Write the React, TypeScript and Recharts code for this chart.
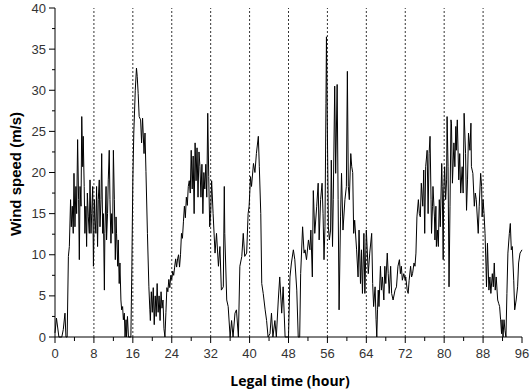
import React from 'react';
import { LineChart, Line, XAxis, YAxis, ReferenceLine } from 'recharts';

// [hour, wind speed m/s], one list per day
const day1: [number, number][] = [
	[0, 0.5], [0.3, 2.3], [0.8, 0], [1.4, 0], [1.7, 0.9], [2.05, 2.9], [2.25, 0], [2.5, 0], [2.75, 9.8], [2.95, 11],
	[3.2, 16.7], [3.35, 13.4], [3.55, 15.9], [3.75, 12.6], [3.9, 19.9], [4.1, 13.4], [4.3, 18.3], [4.45, 15], [4.65, 24], [4.85, 16.7],
	[5.0, 9.4], [5.15, 18.3], [5.35, 15.9], [5.5, 26.8], [5.7, 20.7], [5.8, 24.4], [6.0, 18.3], [6.15, 12.6], [6.35, 15.9], [6.5, 11],
	[6.65, 17.5], [6.85, 14.6], [7.05, 12.6], [7.2, 19.1], [7.4, 12.6], [7.55, 15], [7.75, 18.3], [7.9, 8.6], [8.1, 16.7], [8.2, 14.6],
	[8.4, 12.6], [8.55, 18.3], [8.75, 11], [8.9, 16.7], [9.1, 19.1], [9.25, 13.4], [9.45, 16.7], [9.6, 22.3], [9.8, 12.6], [9.95, 15],
	[10.15, 5.7], [10.25, 12.6], [10.5, 18.3], [10.6, 11.8], [10.8, 15], [10.95, 19.1], [11.15, 22.7], [11.3, 16.7], [11.5, 11.4], [11.65, 15],
	[11.85, 12.6], [12.0, 22.7], [12.2, 16.7], [12.4, 9.4], [12.55, 14.6], [12.65, 12.6], [12.9, 8.6], [13.0, 11.8], [13.2, 6.5], [13.35, 9],
	[13.55, 4.5], [13.7, 3.3], [13.9, 3.7], [14.05, 2.1], [14.25, 2.9], [14.4, 0], [14.6, 2.1], [14.7, 0], [14.9, 2.5], [15.1, 0],
	[15.6, 0], [15.8, 8.6], [16.0, 19.1], [16.2, 24.8], [16.5, 30], [16.75, 32.7], [16.9, 31.7], [17.1, 29.6], [17.3, 26.8], [17.6, 26.4],
	[17.8, 23.6], [18.0, 26.6], [18.3, 22.3], [18.5, 24.8], [18.7, 20.1], [19.0, 12.6], [19.3, 6.1], [19.5, 3.3], [19.6, 2], [19.8, 5.5],
	[20.0, 3], [20.2, 6], [20.4, 1.5], [20.6, 5], [20.8, 2.5], [21.0, 6.5], [21.2, 3], [21.4, 5], [21.6, 2], [21.8, 5.5],
	[22.0, 3.5], [22.2, 4.5], [22.4, 1], [22.6, 0], [22.8, 3], [23.0, 6], [23.2, 5.5], [23.4, 7], [23.6, 6], [23.8, 7.5],
];

const day2: [number, number][] = [
	[24.0, 7], [24.2, 8], [24.4, 7.5], [24.6, 8.5], [24.8, 9.5], [25.0, 8.5], [25.2, 9.5], [25.4, 10], [25.6, 8.5], [25.8, 10],
	[26.0, 12.6], [26.2, 12], [26.4, 14], [26.6, 15.9], [26.8, 14.5], [27.0, 17], [27.2, 16], [27.4, 18.3], [27.6, 19], [27.8, 17.5],
	[28.0, 22.7], [28.2, 18], [28.4, 22], [28.6, 15], [28.8, 23.6], [29.0, 19], [29.2, 23], [29.4, 17], [29.6, 22.5], [29.8, 20.7],
	[30.0, 17], [30.2, 21], [30.4, 15], [30.6, 20], [30.8, 18], [31.0, 21], [31.2, 17], [31.4, 27.2], [31.6, 19.5], [31.8, 13.4],
	[32.0, 15], [32.2, 19], [32.5, 15], [32.9, 10.2], [33.2, 12.6], [33.6, 8.6], [33.9, 11], [34.2, 5.7], [34.6, 6.1], [34.8, 18.3],
	[34.9, 12.6], [35.3, 4.5], [35.6, 3.7], [36.0, 0], [36.3, 2], [36.6, 0], [37.0, 2.9], [37.3, 3.3], [37.7, 0], [38.0, 8.6],
	[38.4, 9.8], [38.7, 12.6], [39.0, 9.8], [39.4, 10.2], [39.7, 15], [39.9, 15.9], [40.2, 19.5], [40.4, 18.3], [40.8, 21.1], [41.1, 20],
	[41.4, 22.3], [41.8, 24.4], [42.0, 20.7], [42.3, 15], [42.5, 6.5], [42.8, 5.3], [43.2, 3.3], [43.5, 2], [43.8, 0], [44.2, 0.4],
	[44.5, 2.9], [44.8, 0], [45.2, 2], [45.5, 0], [45.9, 4.5], [46.2, 7.3], [46.6, 2.9], [46.9, 6.1], [47.3, 0], [48.0, 0],
];

const day3: [number, number][] = [
	[48.3, 7.3], [48.6, 9], [49.0, 10.6], [49.3, 9.4], [49.7, 5.7], [50.0, 0], [50.3, 0], [50.5, 7.7], [50.9, 13.4], [51.2, 10.2],
	[51.4, 10.6], [51.7, 9.4], [52.1, 11.8], [52.4, 10.6], [52.6, 13], [52.9, 7.3], [53.1, 17.8], [53.4, 12.6], [53.8, 15.9], [54.1, 18.7],
	[54.3, 11.8], [54.6, 16.7], [54.9, 18.7], [55.1, 15], [55.3, 9.4], [55.5, 13.4], [55.7, 28.4], [55.8, 36.5], [56.0, 24.8], [56.2, 13.4],
	[56.4, 11.8], [56.65, 13], [56.8, 21.5], [57.05, 11], [57.2, 16.7], [57.5, 30.5], [57.7, 19.9], [58.0, 30.7], [58.2, 16.7], [58.4, 3.3],
	[58.7, 14.6], [58.9, 19.9], [59.2, 13], [59.6, 16.7], [59.9, 18.3], [60.1, 32.3], [60.3, 18.3], [60.5, 16.7], [60.8, 22.3], [61.0, 20.7],
	[61.2, 20], [61.4, 12.6], [61.6, 14.2], [62.0, 10.6], [62.3, 7.3], [62.5, 13], [62.8, 6.5], [63.0, 10.6], [63.2, 5.3], [63.5, 12.6],
	[63.7, 5.3], [64.0, 13], [64.4, 7.7], [64.7, 10.2], [65.1, 12.6], [65.3, 6.5], [65.5, 3.7], [65.8, 6.1], [66.0, 2.1], [66.15, 0],
	[66.3, 3.3], [66.45, 5.7], [66.6, 3.7], [66.9, 8.6], [67.1, 5.7], [67.3, 7.3], [67.6, 4.5], [67.8, 8.6], [68.0, 6.5], [68.3, 10.2],
	[68.5, 7.7], [68.7, 5.3], [69.0, 8.6], [69.2, 5.3], [69.5, 4.5], [69.9, 5.7], [70.2, 6.1], [70.5, 8.6], [70.8, 9.4], [71.0, 7.7],
	[71.2, 8.6], [71.4, 6.9], [71.7, 7.7],
];

const day4: [number, number][] = [
	[72.0, 6.9], [72.1, 7.3], [72.4, 5.7], [72.6, 5.3], [72.8, 6.9], [73.1, 8.6], [73.3, 7.3], [73.5, 7.7], [73.8, 9], [74.0, 8.6],
	[74.2, 10.2], [74.4, 14.6], [74.7, 16.7], [74.9, 15], [75.1, 14.6], [75.3, 18.7], [75.6, 15.9], [75.8, 20.3], [76.0, 12.6], [76.2, 20.7],
	[76.5, 22.7], [76.7, 15], [76.9, 22.3], [77.1, 24.4], [77.3, 16.7], [77.4, 12.6], [77.6, 15.9], [77.7, 18.3], [78.0, 14.6], [78.1, 11.8],
	[78.3, 15.9], [78.4, 11], [78.6, 13], [78.8, 11], [79.0, 16.7], [79.2, 13.4], [79.5, 21.1], [79.6, 18.3], [79.8, 9.4], [79.9, 17.5],
	[80.1, 20.7], [80.3, 16.7], [80.5, 19.1], [80.6, 26.8], [80.8, 20.7], [81.0, 6.1], [81.2, 15.9], [81.4, 26.4], [81.5, 26], [81.7, 18.7],
	[82.0, 23.6], [82.2, 20.7], [82.4, 25.6], [82.5, 22.7], [82.7, 26.4], [83.0, 19.1], [83.2, 22.3], [83.4, 17.5], [83.7, 20.7], [83.9, 17.5],
	[84.1, 27.2], [84.4, 22.3], [84.6, 15.4], [84.8, 19.1], [85.0, 24.8], [85.3, 22.7], [85.5, 26], [85.6, 20.7], [85.9, 19.9], [86.2, 15.9],
	[86.4, 17.5], [86.6, 16.7], [87.0, 12.6], [87.2, 15.9], [87.5, 19.9], [87.7, 18.3], [87.8, 14.6], [88.0, 16.7], [88.2, 15], [88.4, 12.6],
	[88.6, 8.6], [88.7, 6.1], [88.9, 11.4], [89.2, 5.7], [89.4, 7.3], [89.6, 5.3], [89.9, 7.7], [90.1, 6.1], [90.3, 9], [90.5, 5.7],
	[90.7, 7.3], [91.0, 4.5], [91.2, 4.1], [91.4, 3.7], [91.6, 2.1], [91.8, 0.4], [91.9, 2.1], [92.1, 0], [92.3, 2.1], [92.5, 0.8],
	[92.7, 0], [92.9, 5.3], [93.1, 10.2], [93.4, 12.6], [93.6, 13.8], [93.8, 10.6], [94.0, 11], [94.3, 6.9], [94.5, 3.3], [94.8, 4.5],
	[95.1, 6.1], [95.3, 9], [95.6, 10.2], [96.0, 10.6],
];

const xTicks = [0, 4, 8, 12, 16, 20, 24, 28, 32, 36, 40, 44, 48, 52, 56, 60, 64, 68, 72, 76, 80, 84, 88, 92, 96];
const yTicks = [0, 2.5, 5, 7.5, 10, 12.5, 15, 17.5, 20, 22.5, 25, 27.5, 30, 32.5, 35, 37.5, 40];
const gridHours = [8, 16, 24, 32, 40, 48, 56, 64, 72, 80, 88];

const data = [...day1, ...day2, ...day3, ...day4].map(([hour, speed]) => ({ hour, speed }));

const tickFont = "'Liberation Sans', Arial, sans-serif";

const XTick = (props: any) => {
	const { x, y, payload } = props;
	const major = payload.value % 8 === 0;
	return (
		<g>
			<line x1={x} y1={y} x2={x} y2={y + (major ? 6 : 4)} stroke='#000' />
			{major && (
				<text x={x} y={y + 21} textAnchor='middle' fontSize={13} fill='#333' fontFamily={tickFont}>
					{payload.value}
				</text>
			)}
		</g>
	);
};

const YTick = (props: any) => {
	const { x, y, payload } = props;
	const major = payload.value % 5 === 0;
	return (
		<g>
			<line x1={x - (major ? 6 : 3)} y1={y} x2={x} y2={y} stroke='#000' />
			{major && (
				<text x={x - 9} y={y + 4.5} textAnchor='end' fontSize={13} fill='#333' fontFamily={tickFont}>
					{payload.value}
				</text>
			)}
		</g>
	);
};

export default function App() {
	return (
		<div style={{ position: 'absolute', left: 0, top: 0, width: 530, height: 389, background: '#fff' }}>
			<LineChart width={530} height={389} data={data} margin={{ top: 8, right: 8, left: 0, bottom: 0 }}>
				<XAxis
					dataKey='hour'
					type='number'
					domain={[0, 96]}
					ticks={xTicks}
					interval={0}
					height={52}
					tickSize={0}
					tickMargin={0}
					tickLine={false}
					tick={<XTick />}
					axisLine={{ stroke: '#000' }}
				/>
				<XAxis
					xAxisId='top'
					orientation='top'
					dataKey='hour'
					type='number'
					domain={[0, 96]}
					height={0}
					tick={false}
					tickLine={false}
					axisLine={{ stroke: '#000' }}
				/>
				<YAxis
					type='number'
					domain={[0, 40]}
					ticks={yTicks}
					interval={0}
					width={55}
					tickSize={0}
					tickMargin={0}
					tickLine={false}
					tick={<YTick />}
					axisLine={{ stroke: '#000' }}
				/>
				<YAxis
					yAxisId='right'
					orientation='right'
					domain={[0, 40]}
					width={0}
					tick={false}
					tickLine={false}
					axisLine={{ stroke: '#000' }}
				/>
				{gridHours.map((h) => (
					<ReferenceLine key={h} x={h} stroke='#000' strokeWidth={0.8} strokeDasharray='2 2' />
				))}
				<Line
					dataKey='speed'
					type='linear'
					stroke='#000'
					strokeWidth={1}
					dot={false}
					activeDot={false}
					isAnimationActive={false}
				/>
			</LineChart>
			<div
				style={{
					position: 'absolute',
					left: 15,
					top: 174,
					transform: 'translate(-50%, -50%) rotate(-90deg)',
					whiteSpace: 'nowrap',
					fontFamily: "'Liberation Sans', Arial, sans-serif",
					fontWeight: 'bold',
					fontSize: 15,
					color: '#000',
				}}
			>
				Wind speed (m/s)
			</div>
			<div
				style={{
					position: 'absolute',
					left: 290,
					top: 380,
					transform: 'translate(-50%, -50%)',
					whiteSpace: 'nowrap',
					fontFamily: "'Open Sans', sans-serif",
					fontWeight: 'bold',
					fontSize: 14,
					color: '#000',
				}}
			>
				Legal time (hour)
			</div>
		</div>
	);
}
